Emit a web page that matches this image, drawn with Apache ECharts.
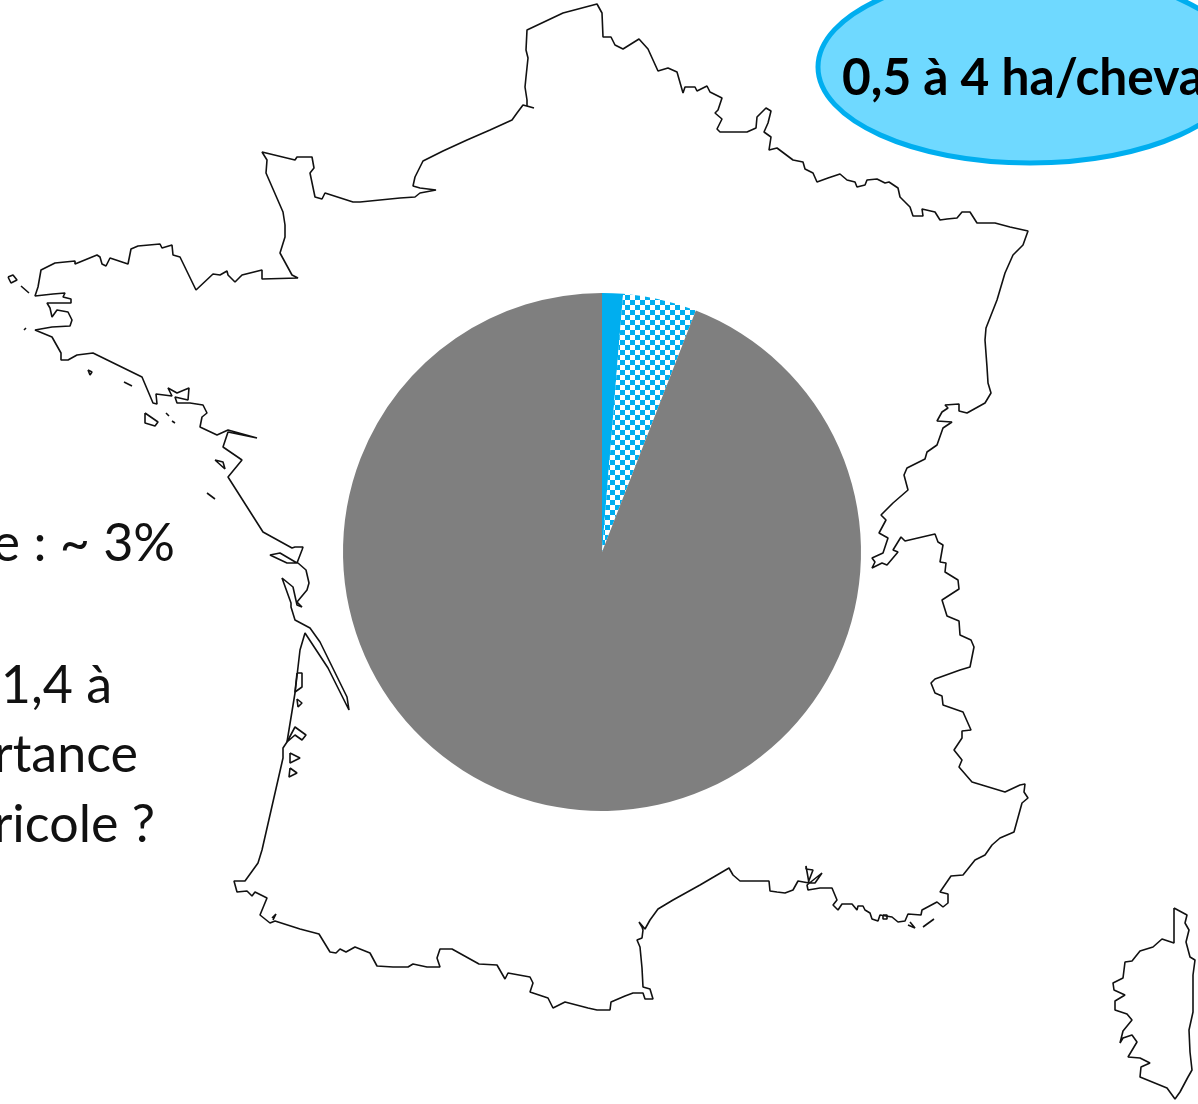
<!DOCTYPE html>
<html>
<head>
<meta charset="utf-8">
<title>Surface par cheval</title>
<script src="https://cdn.jsdelivr.net/npm/echarts@6/dist/echarts.min.js"></script>
<style>
html, body { margin: 0; padding: 0; background: #fff; overflow: hidden; }
#chart { width: 1198px; height: 1104px; }
</style>
</head>
<body>
<div id="chart"></div>
<script>
// parts of the pie, in percent, clockwise from the top
var sliceNames = ['Part 1', 'Part 2', 'Reste'];
var sliceValues = [1.3, 4.6, 94.1];

// outline, on the 1198x1104 axes
var mainland = [[400,198],[415,197],[420,193],[436,190],[420,188],[413,186],[415,177],[423,161],[443,151],[467,140],[490,130],[512,120],[517,113],[523,105],[534,108],[527,106],[527,100],[525,87],[526,77],[528,58],[526,50],[527,30],[563,13],[597,4],[602,13],[603,37],[611,37],[615,45],[623,49],[639,39],[648,49],[658,71],[668,68],[677,72],[683,93],[685,87],[695,87],[697,91],[707,86],[710,92],[722,98],[718,110],[715,113],[722,119],[717,129],[720,132],[747,132],[756,128],[757,117],[766,108],[771,111],[768,123],[764,132],[771,137],[769,150],[777,148],[793,160],[803,162],[805,169],[813,173],[817,182],[828,178],[840,174],[847,180],[855,182],[857,187],[865,185],[867,180],[877,179],[885,183],[889,182],[898,188],[900,197],[910,207],[913,216],[923,216],[922,209],[935,212],[940,220],[947,219],[957,218],[962,212],[970,212],[977,223],[995,223],[1010,227],[1028,231],[1023,245],[1013,255],[1005,273],[997,300],[986,328],[985,340],[987,367],[988,383],[991,393],[985,403],[967,413],[959,411],[959,404],[945,405],[948,408],[942,412],[937,421],[952,422],[943,428],[937,445],[927,452],[925,459],[907,468],[904,475],[908,490],[893,503],[881,515],[886,520],[879,533],[888,538],[883,553],[872,558],[875,562],[872,568],[882,563],[887,565],[898,552],[893,550],[901,537],[905,541],[935,534],[938,542],[943,545],[940,562],[946,563],[945,572],[958,580],[959,589],[942,600],[947,616],[959,621],[960,635],[971,640],[974,647],[970,667],[960,670],[935,679],[931,683],[935,693],[942,696],[943,705],[963,712],[971,730],[962,731],[962,738],[954,750],[962,760],[959,767],[972,782],[1005,792],[1020,785],[1025,784],[1024,792],[1028,798],[1022,803],[1014,832],[1000,838],[992,845],[985,855],[975,860],[967,870],[963,875],[951,876],[940,892],[948,894],[948,903],[943,907],[937,902],[922,910],[921,915],[908,914],[905,921],[898,922],[892,917],[880,915],[878,921],[872,919],[870,913],[865,910],[863,906],[858,906],[857,910],[852,904],[842,904],[838,910],[833,905],[837,900],[832,888],[820,888],[808,890],[807,885],[822,873],[815,883],[808,883],[813,870],[806,869],[806,866],[809,883],[798,881],[793,890],[785,893],[777,892],[770,891],[769,881],[740,881],[733,875],[729,868],[700,885],[673,900],[658,909],[650,920],[645,929],[639,922],[642,927],[643,930],[642,938],[637,940],[640,947],[642,968],[643,987],[650,989],[653,999],[645,999],[643,993],[633,993],[625,996],[611,1002],[610,1010],[597,1010],[588,1008],[565,1002],[553,1008],[548,998],[530,992],[533,983],[530,977],[508,973],[505,979],[497,965],[479,964],[452,949],[440,949],[437,958],[440,967],[427,967],[413,964],[408,967],[393,967],[377,966],[370,953],[355,947],[346,952],[340,949],[336,953],[330,952],[319,934],[300,929],[275,921],[270,923],[260,915],[267,898],[255,892],[252,896],[247,891],[237,892],[234,881],[245,881],[258,863],[262,850],[283,758],[283,748],[287,742],[295,693],[300,650],[305,633],[328,668],[349,710],[347,697],[320,642],[310,628],[295,620],[291,607],[291,603],[282,578],[293,587],[297,605],[302,607],[297,602],[307,590],[309,583],[306,570],[298,563],[287,563],[270,555],[280,553],[297,563],[302,550],[303,547],[295,547],[292,548],[263,532],[228,477],[242,460],[223,447],[228,432],[257,438],[228,430],[217,435],[200,427],[202,417],[207,413],[203,405],[190,403],[177,403],[175,397],[188,400],[189,388],[177,393],[168,388],[172,396],[156,394],[157,404],[153,403],[142,377],[93,353],[77,355],[68,360],[61,360],[61,353],[52,337],[35,330],[52,327],[70,326],[72,320],[68,312],[57,310],[52,317],[50,308],[47,303],[71,303],[71,299],[63,297],[65,293],[53,294],[35,296],[38,287],[41,270],[55,263],[75,261],[75,264],[97,255],[100,257],[102,264],[106,266],[110,258],[128,264],[131,249],[138,246],[160,244],[162,248],[172,245],[173,255],[180,257],[196,290],[213,274],[220,275],[227,271],[228,275],[235,282],[242,275],[262,270],[262,279],[298,278],[292,275],[280,253],[285,237],[285,225],[283,212],[266,173],[267,160],[262,152],[295,160],[297,157],[312,157],[314,168],[310,173],[315,197],[322,199],[325,193],[353,202],[360,202],[400,198]];

var corsica = [[1174,908],[1187,915],[1185,923],[1189,930],[1186,942],[1190,957],[1195,960],[1193,975],[1193,1012],[1189,1030],[1190,1052],[1192,1070],[1188,1077],[1180,1092],[1175,1099],[1167,1088],[1140,1077],[1141,1067],[1150,1063],[1140,1058],[1128,1057],[1137,1042],[1132,1035],[1123,1038],[1120,1043],[1123,1031],[1132,1020],[1127,1014],[1115,1010],[1115,1001],[1125,995],[1114,990],[1113,983],[1123,978],[1125,962],[1132,961],[1140,951],[1153,947],[1162,939],[1174,943],[1174,908]];

// small islands, null splits them
var islands = [[8,277],[13,275],[17,280],[11,283],[8,277],null,[21,286],[29,293],null,[24,330],[26,328],null,[88,370],[92,372],[90,375],[88,370],null,[124,382],[132,386],null,[145,413],[158,422],[155,426],[145,423],[145,413],null,[166,413],[169,416],null,[172,421],[175,423],null,[215,460],[223,462],[225,469],[215,460],null,[207,493],[215,499],null,[297,673],[302,673],[302,687],[295,692],[297,673],null,[297,699],[302,703],[298,707],[297,699],null,[287,742],[295,727],[306,735],[302,740],[295,735],[287,742],null,[290,753],[300,758],[290,763],[290,753],null,[290,768],[297,773],[289,777],[290,768],null,[272,918],[276,914],[273,920],null,[883,915],[887,915],[887,919],[883,919],[883,915],null,[908,925],[915,928],[910,922],null,[923,927],[934,919]];

var textLines = ['e : ~ 3%', '1,4 à', 'rtance', 'ricole ?'];
var bubbleText = '0,5 à 4 ha/cheval';

var BLUE = '#00AEEF';
var GREY = '#7F7F7F';

// checker fill of the second slice
function checkerTile() {
    var c = document.createElement('canvas');
    c.width = 10;
    c.height = 10;
    var ctx = c.getContext('2d');
    ctx.fillStyle = '#fff';
    ctx.fillRect(0, 0, 10, 10);
    ctx.fillStyle = BLUE;
    ctx.fillRect(0, 0, 5, 5);
    ctx.fillRect(5, 5, 5, 5);
    return c;
}

function outline(points) {
    return {
        type: 'line',
        data: points.map(function (p) { return p ? p : [null, null]; }),
        showSymbol: false,
        silent: true,
        connectNulls: false,
        lineStyle: { color: '#111', width: 1.6 },
        z: 1
    };
}

function sideText(text, right, baseline) {
    return {
        type: 'text',
        x: right,
        y: baseline,
        z: 5,
        style: {
            text: text,
            fill: '#111',
            font: '52px Lato',
            textAlign: 'right',
            textVerticalAlign: 'bottom'
        }
    };
}

var chart = echarts.init(document.getElementById('chart'));
var pieColors = [BLUE, { image: checkerTile(), repeat: 'repeat' }, GREY];

chart.setOption({
    animation: false,
    backgroundColor: '#fff',
    grid: { left: 0, right: 0, top: 0, bottom: 0 },
    xAxis: { type: 'value', min: 0, max: 1198, show: false },
    yAxis: { type: 'value', min: 0, max: 1104, inverse: true, show: false },
    series: [
        outline(mainland),
        outline(corsica),
        outline(islands),
        {
            type: 'pie',
            center: [602, 552],
            radius: [0, 259],
            startAngle: 90,
            silent: true,
            label: { show: false },
            labelLine: { show: false },
            data: sliceNames.map(function (name, i) {
                return { name: name, value: sliceValues[i], itemStyle: { color: pieColors[i] } };
            }),
            z: 2
        }
    ],
    graphic: [
        {
            type: 'ellipse',
            z: 4,
            shape: { cx: 1030, cy: 67, rx: 212, ry: 96 },
            style: { fill: '#6FD9FF', stroke: BLUE, lineWidth: 5 }
        },
        {
            type: 'text',
            x: 842,
            y: 104,
            scaleX: 0.955,
            z: 5,
            style: {
                text: bubbleText,
                fill: '#000',
                font: 'bold 52px Lato',
                textAlign: 'left',
                textVerticalAlign: 'bottom'
            }
        },
        sideText(textLines[0], 175, 570),
        sideText(textLines[1], 112, 712),
        sideText(textLines[2], 138, 781),
        sideText(textLines[3], 155, 851)
    ]
});
</script>
</body>
</html>
